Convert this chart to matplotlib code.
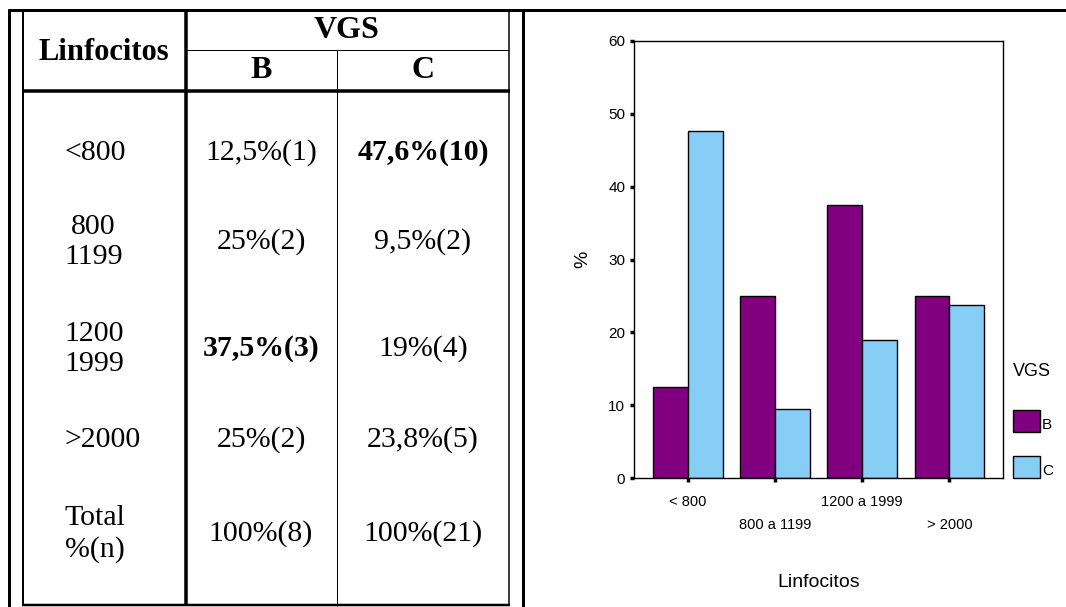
import matplotlib
matplotlib.use("Agg")
import matplotlib.pyplot as plt
import numpy as np
from matplotlib.patches import Rectangle

# table data
row_labels = ["<800", "800\n1199", "1200\n1999", ">2000", "Total\n%(n)"]
col_b = ["12,5%(1)", "25%(2)", "37,5%(3)", "25%(2)", "100%(8)"]
col_c = ["47,6%(10)", "9,5%(2)", "19%(4)", "23,8%(5)", "100%(21)"]
bold_b = [False, False, True, False, False]
bold_c = [True, False, False, False, False]

# chart data
categories = ["< 800", "800 a 1199", "1200 a 1999", "> 2000"]
vgs_b = [12.5, 25.0, 37.5, 25.0]
vgs_c = [47.6, 9.5, 19.0, 23.8]
series_names = ["B", "C"]
colors = ["#800080", "#87CEF7"]

W, H = 1066, 607
fig = plt.figure(figsize=(W / 100, H / 100), dpi=100)

# ---- table (pixel coords overlay) ----
t = fig.add_axes([0, 0, 1, 1])
t.set_xlim(0, W)
t.set_ylim(H, 0)
t.axis("off")

px = 0.72  # points per pixel
def hline(y, x0, x1, w):
    t.plot([x0, x1], [y, y], color="black", lw=w * px, solid_capstyle="butt")
def vline(x, y0, y1, w):
    t.plot([x, x], [y0, y1], color="black", lw=w * px, solid_capstyle="butt")

hline(10, 8, W, 3)
vline(9, 9, H, 3)
vline(23, 9, 606, 2)
vline(509, 9, 606, 1.5)
vline(523, 9, H, 3)
vline(186, 9, 606, 3.5)
vline(337, 50, 606, 1)
hline(50, 186, 509, 1)
hline(91, 22, 510, 3.5)
hline(605, 22, 510, 2.5)

serif = "Liberation Serif"
t.text(104, 52, "Linfocitos", ha="center", va="center", fontsize=22,
       fontweight="bold", family=serif)
t.text(347, 30, "VGS", ha="center", va="center", fontsize=23,
       fontweight="bold", family=serif)
t.text(261, 71, "B", ha="center", va="center", fontsize=23,
       fontweight="bold", family=serif)
t.text(423, 71, "C", ha="center", va="center", fontsize=23,
       fontweight="bold", family=serif)

row_y = [153, 242, 349, 440, 534]
for y, lab, b, c, bb, bc in zip(row_y, row_labels, col_b, col_c, bold_b, bold_c):
    t.text(64, y, lab, ha="left", va="center", fontsize=21.5, family=serif,
           multialignment="center", linespacing=1.2)
    t.text(261, y, b, ha="center", va="center", fontsize=21.5, family=serif,
           fontweight="bold" if bb else "normal")
    t.text(423, y, c, ha="center", va="center", fontsize=21.5, family=serif,
           fontweight="bold" if bc else "normal")

# ---- bar chart ----
sans = "Liberation Sans"
left, right, top, bottom = 633.5, 1003, 41, 478
ax = fig.add_axes([left / W, (H - bottom) / H, (right - left) / W, (bottom - top) / H])
x = np.arange(len(categories))
bw = 0.4
ax.bar(x - bw / 2, vgs_b, bw, color=colors[0], edgecolor="black", linewidth=1.0)
ax.bar(x + bw / 2, vgs_c, bw, color=colors[1], edgecolor="black", linewidth=1.0)
ax.set_xlim(-0.625, 3.615)
ax.set_ylim(0, 60)
ax.set_yticks(range(0, 61, 10))
ax.tick_params(axis="y", length=3, width=2.5, pad=3, labelsize=11)
ax.tick_params(axis="x", length=3, width=2.5, pad=9, labelsize=10.5)
ax.set_xticks(x)
ax.set_xticklabels(["\n" + c if i % 2 else c for i, c in enumerate(categories)],
                   linespacing=1.85)
for lab in ax.get_xticklabels() + ax.get_yticklabels():
    lab.set_family(sans)
for s in ax.spines.values():
    s.set_linewidth(1.0)
ax.set_ylabel("%", fontsize=14, family=sans, labelpad=12)
ax.set_xlabel("Linfocitos", fontsize=14, family=sans, labelpad=30)

# legend
t.text(1032, 372, "VGS", ha="center", va="center", fontsize=13, family=sans)
for name, col, y0 in zip(series_names, colors, [410, 456]):
    t.add_patch(Rectangle((1013, y0), 27, 22, facecolor=col, edgecolor="black", lw=1.0))
    t.text(1042, y0 + 22, name, ha="left", va="bottom", fontsize=11, family=sans)

fig.savefig("out.png", dpi=100)
